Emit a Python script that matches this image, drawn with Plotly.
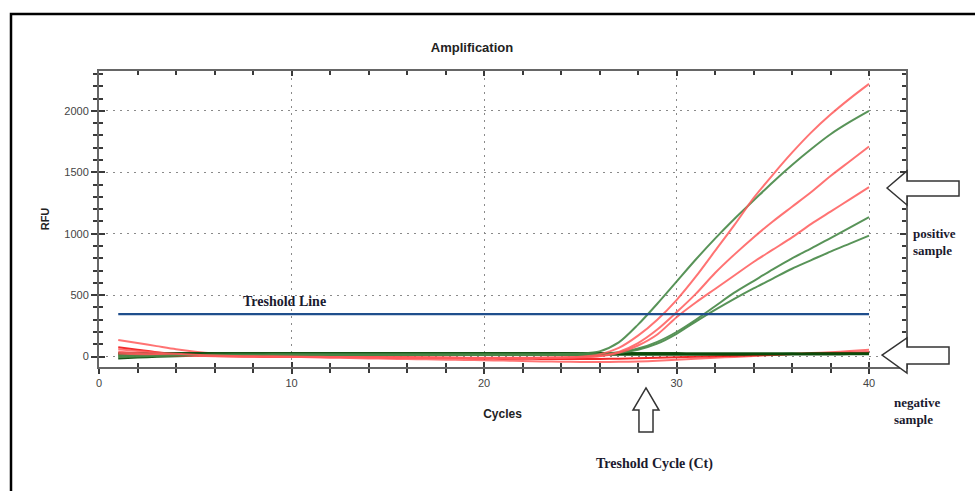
import plotly.graph_objects as go

cycles = list(range(1, 41))

# positive samples (RFU per cycle)
pos_red_a = [60, 45, 32, 22, 14, 8, 4, 2, 0, -2, -4, -5, -6, -7, -8, -9, -10, -10, -11, -12,
             -12, -12, -10, -8, -2, 18, 70, 170, 300, 460, 650, 860, 1070, 1290, 1480, 1660,
             1825, 1970, 2100, 2220]
pos_green_b = [-5, 0, 5, 10, 13, 15, 16, 17, 18, 18, 18, 18, 18, 18, 18, 18, 18, 18, 18, 18,
               18, 18, 19, 20, 24, 42, 115, 260, 430, 610, 790, 960, 1120, 1270, 1420, 1560,
               1690, 1810, 1910, 2000]
pos_red_c = [40, 30, 22, 15, 10, 6, 3, 1, 0, -1, -2, -3, -4, -5, -6, -7, -8, -9, -10, -10,
             -10, -10, -9, -7, -4, 5, 38, 110, 220, 360, 510, 680, 830, 970, 1100, 1220,
             1340, 1470, 1590, 1710]
pos_red_d = [25, 18, 12, 8, 5, 3, 1, 0, -1, -2, -3, -4, -5, -6, -7, -8, -9, -10, -11, -12,
             -12, -12, -11, -9, -6, 2, 30, 90, 180, 320, 440, 550, 660, 770, 870, 970,
             1080, 1180, 1280, 1380]
pos_green_e = [5, 8, 10, 12, 13, 14, 14, 15, 15, 15, 15, 15, 15, 15, 15, 15, 15, 15, 15, 15,
               15, 15, 15, 16, 17, 20, 35, 65, 120, 200, 300, 410, 520, 615, 710, 800,
               880, 965, 1050, 1135]
pos_green_f = [10, 11, 12, 12, 13, 13, 13, 13, 13, 13, 13, 13, 13, 13, 13, 13, 13, 13, 13, 13,
               13, 13, 13, 14, 15, 18, 28, 55, 105, 185, 285, 380, 470, 555, 635, 715,
               785, 855, 920, 985]

# negative samples
neg_red_1 = [135, 110, 85, 60, 40, 25, 15, 5, 0, -3, -6, -9, -12, -15, -18, -20, -22, -25, -27, -30,
             -33, -37, -40, -42, -44, -45, -43, -40, -34, -25, -17, -10, -3, 5, 12, 20,
             28, 35, 45, 55]
neg_red_2 = [75, 55, 35, 20, 10, 5, 2, 0, -1, -2, -3, -3, -4, -4, -5, -6, -8, -10, -12, -15,
             -17, -18, -19, -20, -20, -19, -17, -14, -10, -6, -2, 2, 6, 10, 15, 20,
             24, 28, 32, 36]
neg_green_1 = [28, 28, 28, 28, 28, 28, 28, 28, 28, 28, 28, 28, 28, 28, 28, 28, 28, 28, 28, 28,
               28, 28, 28, 28, 28, 28, 28, 28, 28, 28, 27, 27, 27, 27, 27, 26, 26, 26, 26, 26]
neg_green_2 = [-15, -8, -2, 3, 7, 10, 12, 13, 14, 15, 15, 15, 15, 15, 15, 15, 15, 15, 15, 15,
               15, 15, 15, 15, 15, 15, 15, 15, 15, 15, 15, 15, 15, 16, 16, 16, 17, 17, 18, 18]
neg_green_3 = [20, 20, 20, 21, 21, 21, 21, 21, 21, 21, 21, 21, 21, 21, 21, 21, 21, 21, 21, 21,
               21, 21, 21, 21, 21, 21, 21, 21, 21, 21, 21, 21, 21, 21, 21, 22, 22, 22, 22, 22]

threshold = 345
threshold_cycles = [1, 40]

x_ticks = [0, 10, 20, 30, 40]
y_ticks = [0, 500, 1000, 1500, 2000]

RED_LIGHT = "rgba(255,90,90,0.85)"
RED_SAT = "rgba(240,20,20,0.9)"
GREEN_LIGHT = "rgba(70,135,70,0.9)"
GREEN_DARK = "rgba(10,75,10,0.95)"
BLUE = "#1f4e8c"

fig = go.Figure()


def add_line(y, color, width=2):
    fig.add_trace(go.Scatter(x=cycles, y=y, mode="lines",
                             line=dict(color=color, width=width, shape="spline", smoothing=0.8),
                             showlegend=False, hoverinfo="skip"))


add_line(neg_red_1, RED_LIGHT)
add_line(neg_red_2, RED_SAT)
add_line(neg_green_2, GREEN_DARK)
add_line(neg_green_3, GREEN_DARK)
add_line(neg_green_1, GREEN_DARK)

add_line(pos_green_f, GREEN_LIGHT)
add_line(pos_green_e, GREEN_LIGHT)
add_line(pos_red_d, RED_LIGHT)
add_line(pos_red_c, RED_LIGHT)
add_line(pos_green_b, GREEN_LIGHT)
add_line(pos_red_a, RED_LIGHT)

fig.add_trace(go.Scatter(x=threshold_cycles, y=[threshold] * len(threshold_cycles),
                         mode="lines", line=dict(color=BLUE, width=2.2),
                         showlegend=False, hoverinfo="skip"))

# invisible trace to activate the overlay axes
fig.add_trace(go.Scatter(x=[None], y=[None], xaxis="x2", yaxis="y2",
                         showlegend=False, hoverinfo="skip"))

XR = [0, 41.92]
YR = [-85, 2325]
AXC = "#3a3a3a"
TICKF = dict(family="Liberation Sans, Arial", size=11, color="#444")

fig.update_layout(
    width=975, height=491,
    margin=dict(l=99, r=69, t=71, b=124),
    paper_bgcolor="white", plot_bgcolor="white",
    title=dict(text="<b>Amplification</b>", x=472 / 975, xanchor="center",
               y=1 - 47 / 491, yanchor="middle",
               font=dict(family="Liberation Sans, Arial", size=13, color="#222")),
    xaxis=dict(range=XR, tickvals=x_ticks, ticks="outside", ticklen=5, tickwidth=1.5,
               tickcolor=AXC, showline=True, linecolor=AXC, linewidth=1.5,
               showgrid=True, gridcolor="#8a8a8a", gridwidth=1, griddash="2px,5px",
               zeroline=False, tickfont=TICKF,
               minor=dict(dtick=2, tick0=0, ticks="outside", ticklen=4, tickcolor=AXC,
                          showgrid=False),
               title=dict(text="<b>Cycles</b>", standoff=22,
                          font=dict(family="Liberation Sans, Arial", size=12, color="#222"))),
    yaxis=dict(range=YR, tickvals=y_ticks, ticks="outside", ticklen=6, tickwidth=1.5,
               tickcolor=AXC, showline=True, linecolor=AXC, linewidth=2,
               showgrid=True, gridcolor="#8a8a8a", gridwidth=1, griddash="2px,5px",
               zeroline=False, tickfont=TICKF,
               minor=dict(dtick=100, tick0=0, ticks="outside", ticklen=4, tickcolor=AXC,
                          showgrid=False),
               title=dict(text="<b>RFU</b>", standoff=12,
                          font=dict(family="Liberation Sans, Arial", size=11, color="#222"))),
    xaxis2=dict(range=XR, overlaying="x", side="bottom", tickvals=x_ticks,
                ticks="inside", ticklen=5, tickwidth=1.5, tickcolor=AXC,
                showticklabels=False, showgrid=False, zeroline=False,
                showline=True, linecolor="#666", linewidth=2, mirror="ticks",
                minor=dict(dtick=2, tick0=0, ticks="inside", ticklen=4, tickcolor=AXC)),
    yaxis2=dict(range=YR, overlaying="y", side="left", tickvals=y_ticks,
                ticks="inside", ticklen=6, tickwidth=1.5, tickcolor=AXC,
                showticklabels=False, showgrid=False, zeroline=False,
                showline=True, linecolor="#666", linewidth=2, mirror="ticks",
                minor=dict(dtick=100, tick0=0, ticks="inside", ticklen=4, tickcolor=AXC)),
)

# pixel -> paper helpers (plot area spans x 99..906, y 71..367)
L, R, T, B = 99, 906, 71, 367


def px(xp):
    return (xp - L) / (R - L)


def py(yp):
    return (B - yp) / (B - T)


def path(points):
    return "M " + " L ".join(f"{px(a):.4f},{py(b):.4f}" for a, b in points) + " Z"


# outer frame
fig.add_shape(type="rect", xref="paper", yref="paper",
              x0=px(11), x1=px(990), y0=py(500), y1=py(14),
              line=dict(color="black", width=2.5), layer="below")

arrow_line = dict(color="#333", width=1.5)
# positive arrow (pointing left)
fig.add_shape(type="path", xref="paper", yref="paper", line=arrow_line, fillcolor="white",
              path=path([(887, 188), (907, 171), (907, 181), (959, 181), (959, 196),
                         (907, 196), (907, 205)]))
# negative arrow (pointing left)
fig.add_shape(type="path", xref="paper", yref="paper", line=arrow_line, fillcolor="white",
              path=path([(882, 355), (907, 338), (907, 347), (949, 347), (949, 364),
                         (907, 364), (907, 373)]))
# Ct arrow (pointing up)
fig.add_shape(type="path", xref="paper", yref="paper", line=arrow_line, fillcolor="white",
              path=path([(646, 388), (659, 410), (653, 410), (653, 432), (639, 432),
                         (639, 410), (633, 410)]))

SERIF = dict(family="Liberation Serif, Times New Roman", size=14, color="#1a1a2e")
SERIF13 = dict(family="Liberation Serif, Times New Roman", size=13, color="#1a1a2e")

fig.add_annotation(xref="paper", yref="paper", x=px(284), y=py(301), text="<b>Treshold Line</b>",
                   showarrow=False, xanchor="center", yanchor="middle", font=SERIF)
fig.add_annotation(xref="paper", yref="paper", x=px(911), y=py(242),
                   text="<b>positive<br>sample</b>", showarrow=False, align="left",
                   xanchor="left", yanchor="middle", font=SERIF13)
fig.add_annotation(xref="paper", yref="paper", x=px(892), y=py(411),
                   text="<b>negative<br>sample</b>", showarrow=False, align="left",
                   xanchor="left", yanchor="middle", font=SERIF13)
fig.add_annotation(xref="paper", yref="paper", x=px(654), y=py(464),
                   text="<b>Treshold Cycle (Ct)</b>", showarrow=False,
                   xanchor="center", yanchor="middle", font=SERIF)

fig.write_html("out.html")
